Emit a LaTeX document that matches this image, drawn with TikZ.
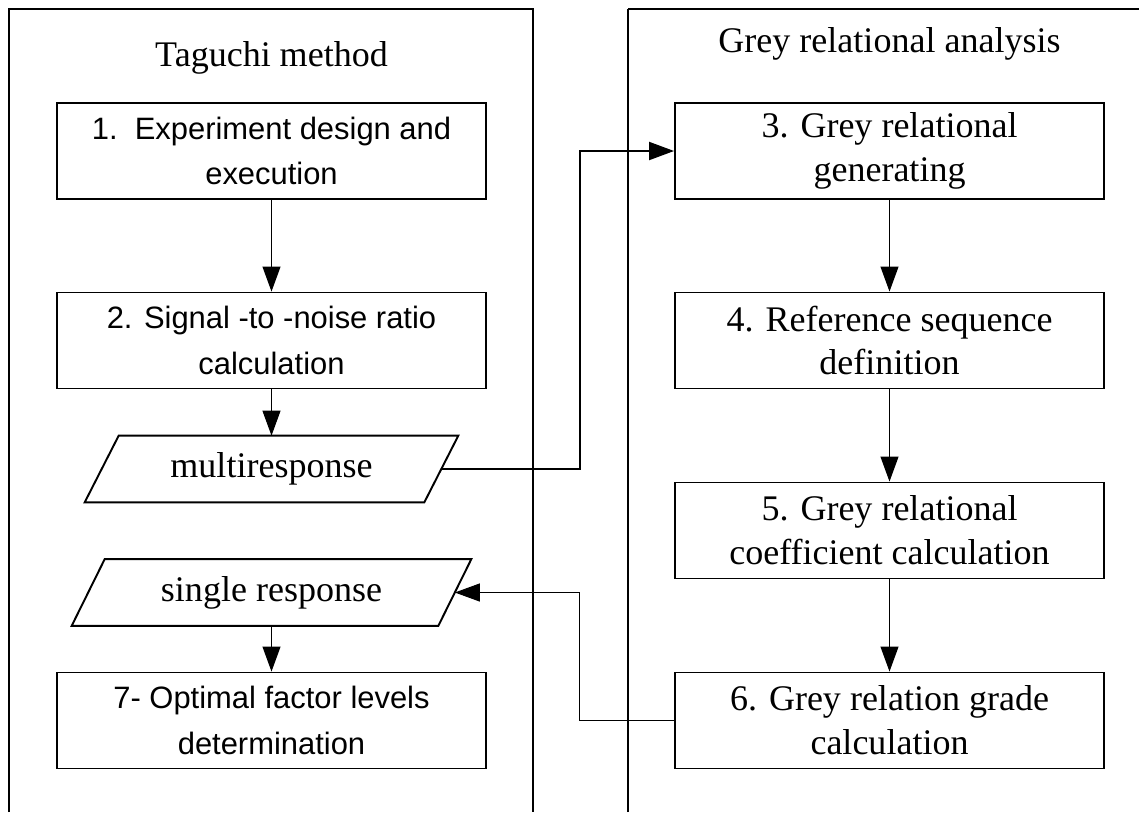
\documentclass[tikz,border=0pt]{standalone}
\usepackage{fontspec}
\setmainfont{Liberation Serif}
\setsansfont{Liberation Sans}
\usetikzlibrary{calc,arrows.meta}
\def\slantframe[#1](#2)(#3){\draw[#1] ($(#2.north west)+(#3,0)$) -- ($(#2.north east)+(#3,0)$) -- ($(#2.south east)-(#3,0)$) -- ($(#2.south west)-(#3,0)$) -- cycle;}

\tikzset{
	heading/.style={font=\fontsize{20.5}{25}\selectfont},
	tagbox/.style={draw, line width=1.1pt, minimum width=8.58cm, minimum height=1.92cm, inner sep=0pt, align=center, font=\sffamily\fontsize{17.6}{26}\selectfont},
	grabox/.style={draw, line width=1.1pt, minimum width=8.58cm, minimum height=1.92cm, inner sep=0pt, align=center, font=\fontsize{20.5}{25}\selectfont},
	dataio/.style={minimum height=1.32cm, inner sep=0pt, font=\fontsize{20.5}{25}\selectfont},
	flow/.style={line width=0.6pt, -{Triangle[length=0.5cm, width=0.36cm]}}
}

\begin{document}
\begin{tikzpicture}[x=0.02cm, y=-0.02cm]
		%%%%% START %%%%%
		
		\useasboundingbox (0,0) rectangle (1139,812);
		\fill[white] (0,0) rectangle (1139,812);
		
		% the two columns, both open at the bottom
		\draw[line width=0.7pt] (9,812) -- (9,9) -- (533,9) -- (533,812);
		\draw[line width=0.7pt] (628,9) -- (1139,9);
		\draw[line width=1.2pt] (628,812) -- (628,9);
		
		\node[heading] (tagtitle) at (271.5,58) {Taguchi method};
		\node[heading] (gratitle) at (889.5,44) {Grey relational analysis};
		
		% left column
		\node[tagbox] (tag1) at (271.5,151) {1.\ \ Experiment design and\\execution};
		\node[tagbox] (tag2) at (271.5,340.5) {2. Signal -to -noise ratio\\calculation};
		\node[dataio, minimum width=6.78cm] (multi) at (271.5,469) {multiresponse};
		\slantframe[line width=1.1pt](multi)(17)
		\node[dataio, minimum width=7.32cm] (single) at (271.5,592.5) {single response};
		\slantframe[line width=1.1pt](single)(16.5)
		\node[tagbox] (tag7) at (271.5,720.5) {7- Optimal factor levels\\determination};
		
		% right column
		\node[grabox] (gra3) at (889.5,151) {3. Grey relational\\generating};
		\node[grabox] (gra4) at (889.5,340.5) {4. Reference sequence\\definition};
		\node[grabox] (gra5) at (889.5,530.5) {5. Grey relational\\coefficient calculation};
		\node[grabox] (gra6) at (889.5,720.5) {6. Grey relation grade\\calculation};
		
		\draw[flow] (tag1) -- (tag2);
		\draw[flow] (tag2) -- (multi);
		\draw[flow] (single) -- (tag7);
		
		\draw[flow] (gra3) -- (gra4);
		\draw[flow] (gra4) -- (gra5);
		\draw[flow] (gra5) -- (gra6);
		
		% across the columns and back
		\draw[flow, line width=1.1pt] (multi.east) -- ++(139,0) |- (gra3.west);
		\draw[flow] (gra6.west) -- ++(-95,0) |- (single.east);
		\fill (533,592.5) circle (1.6);
		
		%%%%% END %%%%%
\end{tikzpicture}
\end{document}
